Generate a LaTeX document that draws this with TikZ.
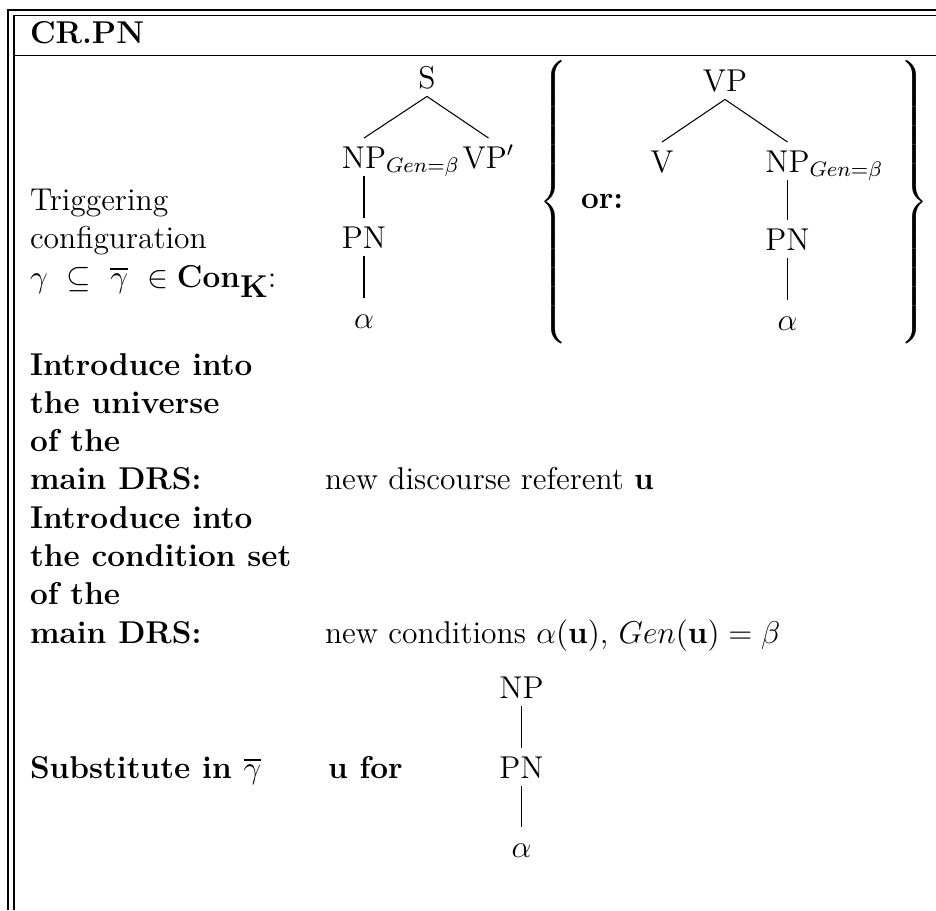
\documentclass[tikz,border=0pt]{standalone}
\usepackage{amsmath}
\begin{document}
\begin{tikzpicture}[x=0.380342pt,y=-0.380342pt,
  every node/.style={font=\fontsize{12}{14.5}\selectfont, inner sep=0pt, outer sep=0pt},
  txt/.style={anchor=base west},
  btxt/.style={anchor=base west, font=\fontsize{12}{14.5}\selectfont\bfseries},
  tn/.style={anchor=base, text height=8.2pt, text depth=0pt, inner xsep=0pt, inner ysep=3.2pt},
  frame/.style={line width=0.6pt},
  diag/.style={line width=0.4pt},
  vert/.style={line width=0.65pt}]
\useasboundingbox (0,0) rectangle (936,910);
% frame
\draw[frame] (8,910) -- (8,10) -- (936,10);
\draw[frame] (14,910) -- (14,15.7) -- (936,15.7);
\draw[frame] (14,55.7) -- (936,55.7);
% title
\node[btxt] (title) at (30,43) {CR.PN};
% triggering configuration
\node[txt] (trig1) at (30,210) {Triggering};
\node[txt] (trig2) at (30,248) {configuration};
\node[txt] (trig3) at (30,287) {$\gamma\ \subseteq\ \overline{\gamma}\ \in\mathbf{Con}$\raisebox{-3.8pt}{\textbf{K}}:};
% tree 1
\node[tn] (s1) at (427,88) {S};
\node[tn] (np1) at (364,168) {NP\rlap{$_{Gen=\beta}$}};
\node[tn] (vp1) at (488.5,168) {VP$'$};
\node[tn] (pn1) at (364,248) {PN};
\node[tn] (al1) at (364,328) {$\alpha$};
\draw[diag] (s1.south) -- (np1.north);
\draw[diag] (s1.south) -- (vp1.north);
\draw[vert] (np1.south) -- (pn1.north);
\draw[vert] (pn1.south) -- (al1.north);
% braces
\node (lbr) at (555,202) {$\left\{\vcenter{\hbox{\rule{0pt}{112pt}}}\right.$};
\node (rbr) at (913,202) {$\left.\vcenter{\hbox{\rule{0pt}{112pt}}}\right\}$};
\node[btxt] (or) at (581,208) {or:};
% tree 2
\node[tn] (vp2) at (725,91) {VP};
\node[tn] (v2) at (662,172) {V};
\node[tn] (np2) at (787.5,172) {NP\rlap{$_{Gen=\beta}$}};
\node[tn] (pn2) at (787.5,250) {PN};
\node[tn] (al2) at (787.5,330) {$\alpha$};
\draw[diag] (vp2.south) -- (v2.north);
\draw[diag] (vp2.south) -- (np2.north);
\draw[vert] (np2.south) -- (pn2.north);
\draw[vert] (pn2.south) -- (al2.north);
% universe
\node[btxt] (u1) at (30,375) {Introduce into};
\node[btxt] (u2) at (30,413) {the universe};
\node[btxt] (u3) at (30,451) {of the};
\node[btxt] (u4) at (30,489) {main DRS:};
\node[txt] (ur) at (325,489) {new discourse referent $\mathbf{u}$};
% conditions
\node[btxt] (c1) at (30,528) {Introduce into};
\node[btxt] (c2) at (30,566) {the condition set};
\node[btxt] (c3) at (30,604) {of the};
\node[btxt] (c4) at (30,643) {main DRS:};
\node[txt] (cr) at (325,643) {new conditions $\alpha(\mathbf{u})$, $Gen(\mathbf{u})=\beta$};
% substitute
\node[btxt] (sb) at (30,778) {Substitute in $\overline{\gamma}$};
\node[btxt] (uf) at (328,778) {u for};
\node[tn] (np3) at (521.5,698) {NP};
\node[tn] (pn3) at (521.5,778) {PN};
\node[tn] (al3) at (521.5,857) {$\alpha$};
\draw[vert] (np3.south) -- (pn3.north);
\draw[vert] (pn3.south) -- (al3.north);
\end{tikzpicture}
\end{document}
